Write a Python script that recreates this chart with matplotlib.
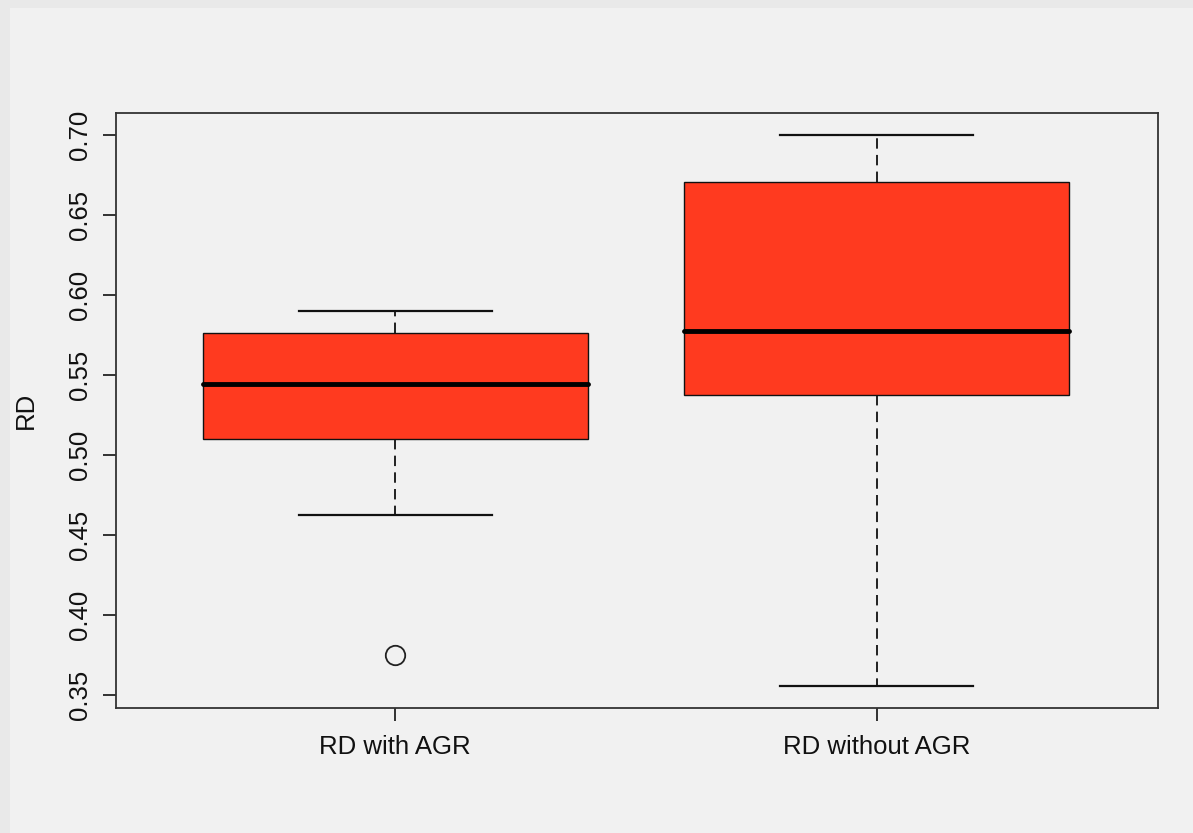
import matplotlib
matplotlib.use("Agg")
import matplotlib.pyplot as plt
from matplotlib.patches import Rectangle

# Data
categories = ["RD with AGR", "RD without AGR"]
whisker_low = [0.4625, 0.3556]
q1 = [0.510, 0.5375]
median = [0.5444, 0.5775]
q3 = [0.5763, 0.6706]
whisker_high = [0.590, 0.700]
outliers = [[0.375], []]
yticks = [0.35, 0.40, 0.45, 0.50, 0.55, 0.60, 0.65, 0.70]

plt.rcParams['font.family'] = ['Liberation Sans', 'DejaVu Sans']
plt.rcParams['lines.scale_dashes'] = False

W, H = 1193, 833
fig = plt.figure(figsize=(W / 100, H / 100), dpi=100, facecolor="#e9e9e9")
fig.patches.append(Rectangle((10 / W, 0), 1 - 10 / W, 1 - 8 / H, transform=fig.transFigure,
                             facecolor="#f1f1f1", edgecolor="none", zorder=-5))

ax = fig.add_axes([116 / W, 1 - 708 / H, (1158 - 116) / W, (708 - 113) / H])
ax.set_facecolor("none")
ax.set_zorder(2)

stats = []
for i, lab in enumerate(categories):
    stats.append(dict(label=lab, whislo=whisker_low[i], q1=q1[i], med=median[i],
                      q3=q3[i], whishi=whisker_high[i], fliers=outliers[i]))

ax.bxp(stats, positions=[1, 2], widths=0.8, patch_artist=True, showfliers=True,
       boxprops=dict(facecolor="#ff3a1f", edgecolor="#111111", linewidth=1.0),
       medianprops=dict(color="black", linewidth=3.5, solid_capstyle="round"),
       whiskerprops=dict(color="#111111", linewidth=1.3, linestyle=(0, (7.5, 4.5))),
       capprops=dict(color="#111111", linewidth=1.6),
       capwidths=0.4,
       flierprops=dict(marker="o", markersize=14, markerfacecolor="none",
                       markeredgecolor="#222222", markeredgewidth=1.3))

ax.set_xlim(0.42, 2.584)
ax.set_ylim(0.3419, 0.71375)
ax.set_yticks(yticks)
ax.set_yticklabels([f"{v:.2f}" for v in yticks], rotation=90, va="center")
ax.set_xticks([1, 2])
ax.set_xticklabels(categories)

for s in ax.spines.values():
    s.set_color("#333333")
    s.set_linewidth(1.3)

ax.tick_params(axis="y", length=9.4, width=1.2, pad=8, labelsize=18.5, colors="#111111")
ax.tick_params(axis="x", length=9.4, width=1.2, pad=10, labelsize=18.5, colors="#111111")

ax.set_ylabel("RD", fontsize=18.5, color="#111111")
ax.yaxis.set_label_coords(-0.075, 0.5)

fig.savefig("out.png", dpi=100, facecolor=fig.get_facecolor())
